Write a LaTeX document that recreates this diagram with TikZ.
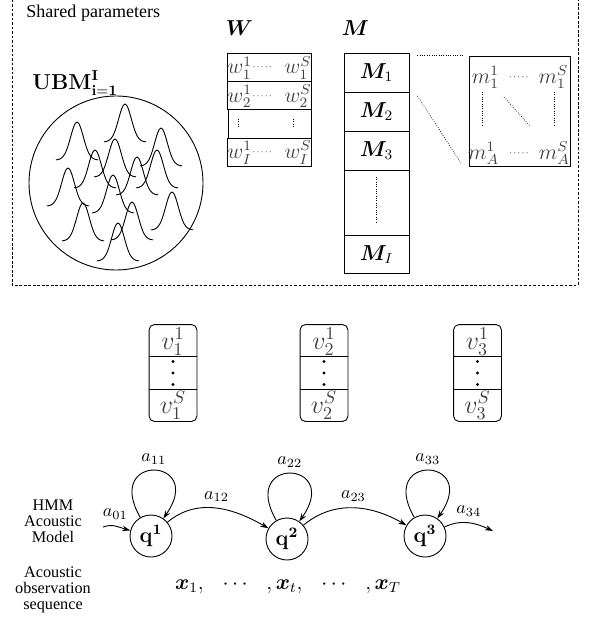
\documentclass[tikz,border=0pt]{standalone}
\usepackage[no-math]{fontspec}
\setmainfont{Liberation Serif}
\usepackage{amsmath,bm}
\usetikzlibrary{calc,arrows.meta}

\def\px{0.0195cm}
\newcommand{\hdotline}{\raisebox{.4ex}{\tiny${\cdot}{\cdot}{\cdot}{\cdot}{\cdot}$}}

\begin{document}
\begin{tikzpicture}[x=\px,y=\px,line width=0.5pt,>={Stealth[length=4.5pt,width=3pt]},
  frame/.style={dash pattern=on 1.5pt off 1pt},
  dots/.style={line width=0.4pt,dash pattern=on 0.4pt off 0.9pt},
  entry/.style={text=black!75},
  wcell/.style={draw,rectangle,inner sep=0pt,anchor=north,minimum width=83*\px,minimum height=28.25*\px,text height=10pt,text depth=3pt,font=\large,entry},
  mcell/.style={draw,rectangle,inner sep=0pt,anchor=north,minimum width=65*\px,font=\large},
  vcell/.style={rectangle,inner sep=0pt,minimum width=47*\px,minimum height=32*\px,text height=12pt,text depth=3pt,font=\Large,entry},
  hmmstate/.style={draw,circle,inner sep=0pt,minimum size=42*\px,font=\large},
  caption/.style={align=center,font=\fontsize{9}{9}\selectfont}]
\useasboundingbox (0,0) rectangle (590,-619);
\draw[frame] (12,5) rectangle (578,-285);

% shared parameters
\node[anchor=west] (shared) at (20,-13) {Shared parameters};
\node[anchor=west,font=\large] (ubm) at (26,-83) {$\mathbf{UBM}^{\mathbf{I}}_{\mathbf{i=1}}$};
\node[draw,circle,inner sep=0pt,minimum size=174*\px] (pool) at (116,-183) {};
\foreach \gx/\gy in {77/122,125/104,161/128,115/139,95/150,137/157,157/150,68/168,113/175,172/192,83/203,132/202,118/223}
  \draw[shift={(\gx,-\gy)}] plot[smooth,domain=-21:21,samples=25] (\x,{38*exp(-(\x)*(\x)/81)-38});

\node[font=\large] (Wlab) at (239.5,-28) {$\boldsymbol{W}$};
\node[font=\large] (Mlab) at (355.5,-28) {$\boldsymbol{M}$};

\path
(269.5,-53) node[wcell] (w1) {$w_1^1\hdotline\;\;w_1^S$}
(269.5,-81.25) node[wcell] (w2) {$w_2^1\hdotline\;\;w_2^S$}
(269.5,-109.5) node[wcell] (w3) {}
(269.5,-137.75) node[wcell] (wI) {$w_I^1\hdotline\;\;w_I^S$}
;
\draw[dots] (238,-119) -- (238,-128);
\draw[dots] (293,-119) -- (293,-128);

\path
(376.5,-53) node[mcell,minimum height=39*\px] (M1) {$\boldsymbol{M}_1$}
(376.5,-92) node[mcell,minimum height=39*\px] (M2) {$\boldsymbol{M}_2$}
(376.5,-131) node[mcell,minimum height=39*\px] (M3) {$\boldsymbol{M}_3$}
(376.5,-170) node[mcell,minimum height=65*\px] (Mdots) {}
(376.5,-235) node[mcell,minimum height=38*\px] (MI) {$\boldsymbol{M}_I$}
;
\draw[dots] (376,-177) -- (376,-222);

\node[draw,rectangle,anchor=north,minimum width=101*\px,minimum height=110*\px] (mat) at (519.5,-56) {};
\node[font=\large,entry] (m1) at (520,-77) {$m_1^1\;\,\hdotline\;\,m_1^S$};
\node[font=\large,entry] (mA) at (519,-153) {$m_A^1\;\,\hdotline\;\,m_A^S$};
\begin{scope}[every path/.style={draw,dots}]
\path (482,-92) -- (482,-125);
\path (554,-92) -- (554,-125);
\path (504,-97) -- (530,-126);
\path ($(M1.north east)+(8,-2)$) -- ($(mat.north west)+(-6,1)$);
\path ($(M1.south east)+(8,-3)$) -- ($(mat.south west)+(-7,3)$);
\end{scope}

% state vectors
\foreach \i/\vx in {1/173,2/324,3/477.5}{
  \node[vcell] (vtop\i) at (\vx,-341) {$v_\i^1$};
  \node[vcell] (vmid\i) at (\vx,-373) {};
  \node[vcell] (vbot\i) at (\vx,-405) {$v_\i^S$};
  \draw[rounded corners=3pt] (vtop\i.north west) rectangle (vbot\i.south east);
  \draw (vmid\i.north west) -- (vmid\i.north east) (vmid\i.south west) -- (vmid\i.south east);
  \foreach \d in {-11.5,0,11.5}
    \fill ($(vmid\i)+(0,\d)$) circle (1.6);
}

% HMM
\node[hmmstate] (q1) at (151,-536) {$\mathbf{q^1}$};
\node[hmmstate] (q2) at (287,-539) {$\mathbf{q^2}$};
\node[hmmstate] (q3) at (425,-536) {$\mathbf{q^3}$};
\coordinate (start) at (103,-527);
\coordinate (end) at (493,-531);

\draw[->] (q1.120) .. controls +(120:75) and +(55:75) .. node[above] {$a_{11}$} (q1.55);
\draw[->] (q2.120) .. controls +(120:75) and +(55:75) .. node[above] {$a_{22}$} (q2.55);
\draw[->] (q3.120) .. controls +(120:75) and +(55:75) .. node[above] {$a_{33}$} (q3.55);
\draw[->] (start) to[out=20,in=165] node[above,pos=.45] {$a_{01}$} (q1);
\draw[->] (q1) to[out=40,in=150] node[above] {$a_{12}$} (q2);
\draw[->] (q2) to[out=40,in=150] node[above] {$a_{23}$} (q3);
\draw[->] (q3) to[out=25,in=155] node[above] {$a_{34}$} (end);

\node[caption] (hmm) at (53,-521) {HMM\\Acoustic\\Model};
\node[caption] (obs) at (53,-590) {Acoustic\\observation\\sequence};
\node[font=\large] (xseq) at (288,-587) {$\boldsymbol{x}_1,\hspace{.7em}\cdots\hspace{.7em},\boldsymbol{x}_t,\hspace{.7em}\cdots\hspace{.7em},\boldsymbol{x}_T$};
\end{tikzpicture}
\end{document}
